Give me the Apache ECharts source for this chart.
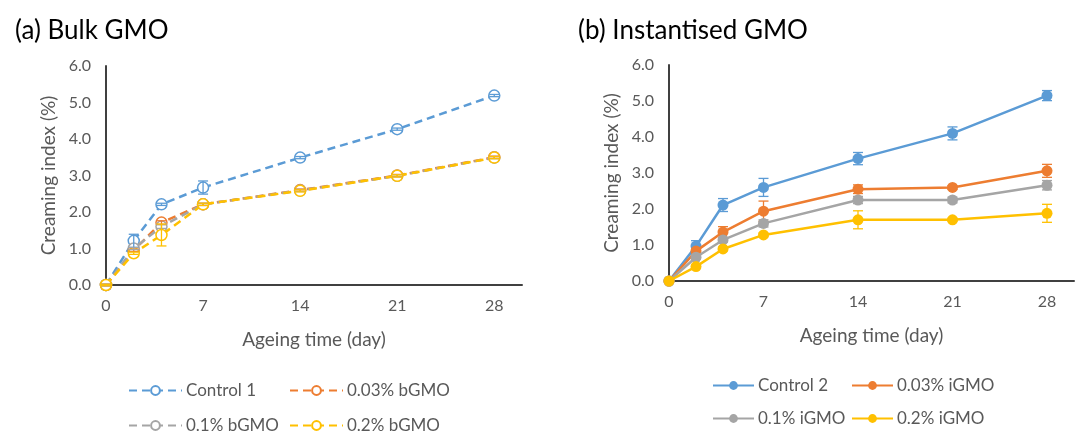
<!DOCTYPE html>
<html>
<head>
<meta charset="utf-8">
<script src="https://cdn.jsdelivr.net/npm/echarts@6/dist/echarts.min.js"></script>
<style>
  html, body { margin: 0; padding: 0; background: #fff; }
  #chart { width: 1077px; height: 435px; }
</style>
</head>
<body>
<div id="chart"></div>
<script>
// Ageing time points (day)
const days = [0, 2, 4, 7, 14, 21, 28];
const xTicks = [0, 7, 14, 21, 28];

// (a) Bulk GMO — creaming index (%) and standard deviation
const namesA = ['Control 1', '0.03% bGMO', '0.1% bGMO', '0.2% bGMO'];
const control1 = [0, 1.21, 2.21, 2.67, 3.49, 4.27, 5.19];
const bulk003 = [0, 0.95, 1.71, 2.21, 2.60, 3.00, 3.50];
const bulk01 = [0, 1.00, 1.60, 2.21, 2.59, 2.99, 3.49];
const bulk02 = [0, 0.87, 1.37, 2.21, 2.58, 2.99, 3.49];
const control1Err = [0.02, 0.18, 0.03, 0.18, 0.03, 0.03, 0.03];
const bulk003Err = [0.02, 0.03, 0.05, 0.03, 0.03, 0.03, 0.03];
const bulk01Err = [0.02, 0.03, 0.05, 0.03, 0.03, 0.03, 0.03];
const bulk02Err = [0.02, 0.03, 0.30, 0.03, 0.03, 0.03, 0.03];

// (b) Instantised GMO — creaming index (%) and standard deviation
const namesB = ['Control 2', '0.03% iGMO', '0.1% iGMO', '0.2% iGMO'];
const control2 = [0, 0.97, 2.11, 2.60, 3.40, 4.10, 5.15];
const inst003 = [0, 0.83, 1.36, 1.94, 2.55, 2.60, 3.06];
const inst01 = [0, 0.66, 1.14, 1.60, 2.25, 2.25, 2.66];
const inst02 = [0, 0.40, 0.89, 1.28, 1.70, 1.70, 1.88];
const control2Err = [0, 0.15, 0.18, 0.25, 0.17, 0.18, 0.14];
const inst003Err = [0, 0.08, 0.15, 0.28, 0.12, 0.05, 0.18];
const inst01Err = [0, 0.05, 0.06, 0.10, 0.10, 0.08, 0.13];
const inst02Err = [0, 0.03, 0.05, 0.05, 0.25, 0.04, 0.25];

const colors = ['#5B9BD5', '#ED7D31', '#A5A5A5', '#FFC000'];
const FONT = 'Lato';
const TEXT = '#595959';

const seriesA = [control1, bulk003, bulk01, bulk02];
const errA = [control1Err, bulk003Err, bulk01Err, bulk02Err];
const seriesB = [control2, inst003, inst01, inst02];
const errB = [control2Err, inst003Err, inst01Err, inst02Err];

function pairs(vals) { return days.map((d, i) => [d, vals[i]]); }
function errPairs(vals, err) { return days.map((d, i) => [d, vals[i] - err[i], vals[i] + err[i]]); }

// Vertical error bar with caps, drawn in data coordinates
function errorSeries(idx, vals, err, color, width, z) {
  return {
    type: 'custom', xAxisIndex: idx, yAxisIndex: idx, z: z, silent: true,
    data: errPairs(vals, err),
    renderItem: function (params, api) {
      const lo = api.coord([api.value(0), api.value(1)]);
      const hi = api.coord([api.value(0), api.value(2)]);
      const w = 5;
      const style = { stroke: color, lineWidth: width };
      return {
        type: 'group',
        children: [
          { type: 'line', shape: { x1: lo[0], y1: lo[1], x2: hi[0], y2: hi[1] }, style },
          { type: 'line', shape: { x1: lo[0] - w, y1: lo[1], x2: lo[0] + w, y2: lo[1] }, style },
          { type: 'line', shape: { x1: hi[0] - w, y1: hi[1], x2: hi[0] + w, y2: hi[1] }, style }
        ]
      };
    }
  };
}

const series = [];
seriesA.forEach((vals, i) => {
  series.push({
    name: namesA[i], type: 'line', xAxisIndex: 0, yAxisIndex: 0, z: 2 + i,
    data: pairs(vals),
    symbol: 'circle', symbolSize: 11,
    lineStyle: { color: colors[i], width: 2.5, type: [8, 5] },
    itemStyle: { color: '#fff', borderColor: colors[i], borderWidth: 1.5 }
  });
  // hollow markers: bars sit on top so the caps show through the circle
  series.push(errorSeries(0, vals, errA[i], colors[i], 1.3, 10 + i));
});
seriesB.forEach((vals, i) => {
  series.push({
    name: namesB[i], type: 'line', xAxisIndex: 1, yAxisIndex: 1, z: 2 + i,
    data: pairs(vals),
    symbol: 'circle', symbolSize: 11,
    lineStyle: { color: colors[i], width: 2.5 },
    itemStyle: { color: colors[i], borderWidth: 0 }
  });
  series.push(errorSeries(1, vals, errB[i], colors[i], 1.3, 1));
});

function xAxisCfg(idx) {
  return {
    type: 'value', gridIndex: idx, min: 0, max: 30, interval: 7,
    name: 'Ageing time (day)', nameLocation: 'middle', nameGap: 45,
    nameTextStyle: { fontFamily: FONT, fontSize: 19, color: TEXT },
    axisLine: { show: true, lineStyle: { color: '#404040', width: 2 } },
    axisTick: { show: false },
    splitLine: { show: false },
    axisLabel: {
      fontFamily: FONT, fontSize: 16, color: TEXT, margin: 13,
      formatter: v => (xTicks.indexOf(v) >= 0 ? String(v) : '')
    }
  };
}
function yAxisCfg(idx) {
  return {
    type: 'value', gridIndex: idx, min: 0, max: 6, interval: 1,
    name: 'Creaming index (%)', nameLocation: 'middle', nameGap: 48, nameRotate: 90,
    nameTextStyle: { fontFamily: FONT, fontSize: 19, color: TEXT },
    axisLine: { show: true, lineStyle: { color: '#404040', width: 2 } },
    axisTick: { show: false },
    splitLine: { show: false },
    axisLabel: { fontFamily: FONT, fontSize: 16, color: TEXT, margin: 15, formatter: v => v.toFixed(1) }
  };
}

// One legend entry per component so the two columns line up
function legendItem(name, left, top, itemWidth) {
  return {
    data: [name], left: left, top: top, itemWidth: itemWidth, itemHeight: 11, itemGap: 0,
    textStyle: { fontFamily: FONT, fontSize: 17, color: TEXT, padding: [0, 0, 0, -1] },
    selectedMode: false, padding: 0
  };
}

const option = {
  animation: false,
  backgroundColor: '#fff',
  title: [
    { text: '(a) Bulk GMO', left: 10, top: 13, textStyle: { fontFamily: FONT, fontSize: 26, fontWeight: 'normal', color: '#000' } },
    { text: '(b) Instantised GMO', left: 573, top: 13, textStyle: { fontFamily: FONT, fontSize: 26, fontWeight: 'normal', color: '#000' } }
  ],
  grid: [
    { left: 106, top: 66, width: 416, height: 219 },
    { left: 669, top: 65, width: 420, height: 216 }
  ],
  xAxis: [xAxisCfg(0), xAxisCfg(1)],
  yAxis: [yAxisCfg(0), yAxisCfg(1)],
  legend: [
    legendItem(namesA[0], 128, 382, 53),
    legendItem(namesA[1], 289, 382, 53),
    legendItem(namesA[2], 128, 417, 53),
    legendItem(namesA[3], 289, 417, 53),
    legendItem(namesB[0], 712, 377, 41),
    legendItem(namesB[1], 851, 377, 41),
    legendItem(namesB[2], 712, 410, 41),
    legendItem(namesB[3], 851, 410, 41)
  ],
  series: series
};

const chart = echarts.init(document.getElementById('chart'), null, { renderer: 'canvas' });
chart.setOption(option);
</script>
</body>
</html>
